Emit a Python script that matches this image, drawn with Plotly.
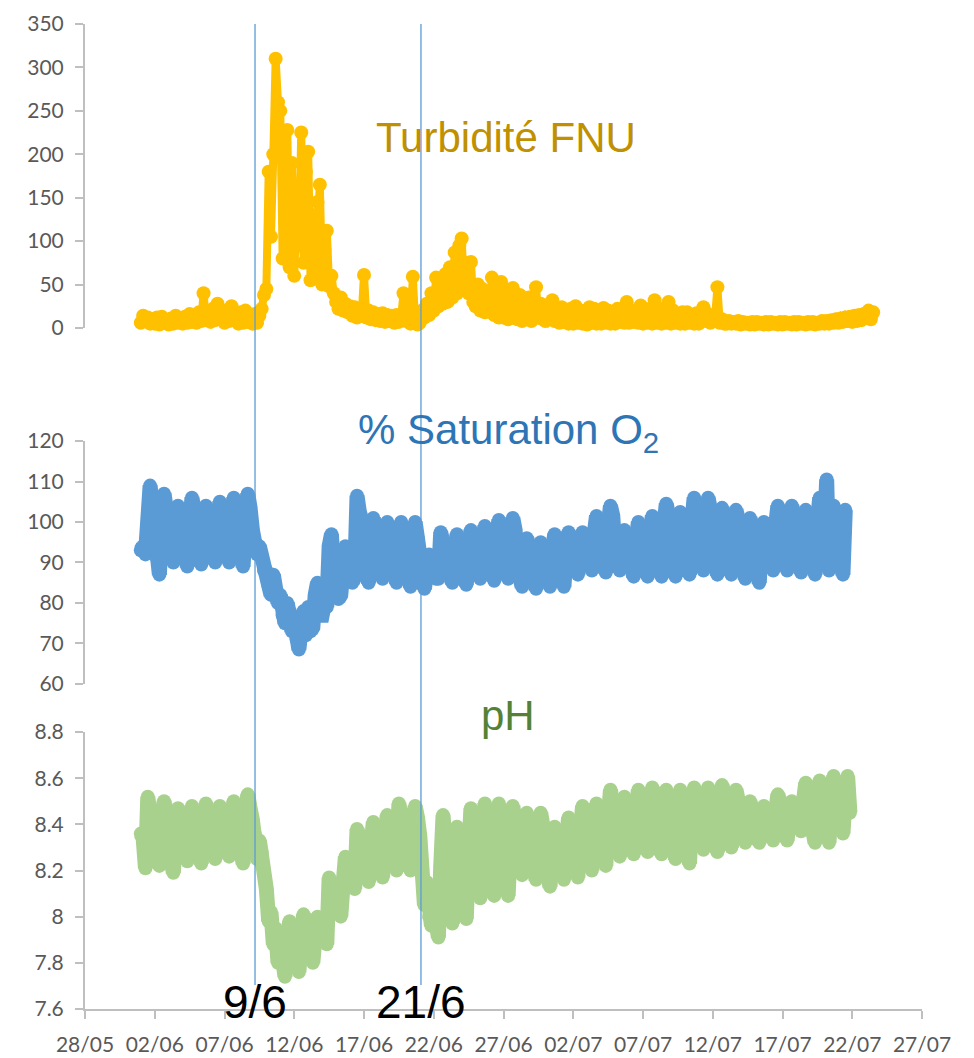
import pandas as pd
import plotly.graph_objects as go

# ---------------- data: one sample every 4 h (00,04,08,12,16,20 h) from 01/06 ----------------
START = "2018-06-01 00:00"
STEP = "4h"

TURBIDITY = [
    6, 14, 8, 12, 5, 10,          # 01/06
    5, 12, 4, 13, 6, 9,           # 02/06
    4, 11, 5, 14, 6, 10,          # 03/06
    5, 13, 6, 16, 7, 12,          # 04/06
    6, 18, 8, 40, 9, 15,          # 05/06
    7, 22, 9, 28, 10, 18,         # 06/06
    6, 20, 8, 25, 9, 17,          # 07/06
    5, 18, 6, 20, 7, 15,          # 08/06
    5, 16, 6, 14, 22, 38,         # 09/06
    45, 180, 105, 200, 310, 260,  # 10/06
    250, 80, 150, 228, 70, 190,   # 11/06
    60, 140, 95, 225, 75, 180,    # 12/06
    203, 55, 130, 60, 145, 165,   # 13/06
    50, 90, 112, 48, 60, 40,      # 14/06
    30, 22, 35, 20, 28, 18,       # 15/06
    25, 14, 24, 12, 20, 15,       # 16/06
    61, 12, 20, 10, 18, 9,        # 17/06
    16, 8, 17, 7, 15, 8,          # 18/06
    14, 6, 15, 7, 13, 40,         # 19/06
    8, 14, 5, 59, 6, 4,           # 20/06
    6, 20, 12, 28, 15, 40,        # 21/06
    20, 58, 25, 45, 28, 62,       # 22/06
    30, 70, 35, 87, 40, 95,       # 23/06
    103, 45, 75, 40, 76, 30,      # 24/06
    25, 50, 20, 45, 18, 40,       # 25/06
    20, 58, 15, 50, 12, 53,       # 26/06
    12, 40, 10, 35, 46, 12,       # 27/06
    10, 38, 8, 30, 10, 35,        # 28/06
    8, 30, 47, 12, 28, 10,        # 29/06
    8, 25, 10, 32, 8, 22,         # 30/06
    6, 24, 7, 20, 5, 22,          # 01/07
    5, 25, 6, 20, 5, 18,          # 02/07
    4, 24, 6, 22, 5, 20,          # 03/07
    5, 23, 6, 20, 5, 18,          # 04/07
    5, 22, 7, 20, 6, 30,          # 05/07
    6, 20, 7, 18, 6, 26,          # 06/07
    5, 22, 6, 18, 5, 32,          # 07/07
    6, 22, 5, 18, 6, 30,          # 08/07
    5, 20, 6, 16, 5, 18,          # 09/07
    5, 18, 6, 15, 5, 17,          # 10/07
    5, 16, 24, 8, 16, 6,          # 11/07
    10, 12, 47, 6, 10, 5,         # 12/07
    5, 8, 5, 7, 5, 8,             # 13/07
    4, 7, 5, 6, 4, 7,             # 14/07
    4, 7, 5, 6, 4, 7,             # 15/07
    4, 7, 5, 6, 4, 7,             # 16/07
    4, 7, 5, 6, 4, 7,             # 17/07
    4, 7, 5, 6, 4, 7,             # 18/07
    5, 7, 4, 6, 5, 8,             # 19/07
    5, 8, 5, 9, 6, 10,            # 20/07
    6, 11, 7, 12, 8, 13,          # 21/07
    7, 14, 8, 15, 9, 16,          # 22/07
    12, 20, 10, 18,               # 23/07
]

O2_SAT = [
    93, 94, 92, 100, 109, 103,          # 01/06
    95, 91, 87, 99, 107, 103,           # 02/06
    95.5, 93, 90, 98.5, 104, 101,       # 03/06
    96, 92.5, 89, 99, 106, 102.5,       # 04/06
    95.5, 92.5, 89.5, 98, 104, 101,     # 05/06
    96, 93, 90, 99, 105, 102,           # 06/06
    96.5, 93, 90, 99.5, 106, 103,       # 07/06
    96, 92.5, 89, 100, 107, 103.5,      # 08/06
    98, 95, 92, 94, 91, 88,             # 09/06
    88, 84, 82, 87, 83, 80,             # 10/06
    82, 77, 75, 80, 78, 73,             # 11/06
    76, 71, 68.5, 74, 78, 72,           # 12/06
    79, 73, 74, 82, 85, 77,             # 13/06
    77, 80, 79, 94, 97, 86,             # 14/06
    83, 81, 82, 89, 94, 90,             # 15/06
    86, 85, 87, 106.5, 102.5, 100.5,    # 16/06
    90, 86, 85, 94, 101, 97,            # 17/06
    91, 88, 86, 95, 100, 98,            # 18/06
    91, 88, 85, 94, 100, 97,            # 19/06
    90, 87, 84, 94, 100, 96,            # 20/06
    88, 85, 83.5, 88, 92, 90,           # 21/06
    88, 86, 86, 97.5, 93, 91,           # 22/06
    89, 87, 85, 92, 97, 94,             # 23/06
    89, 86.5, 84.5, 93, 98, 95,         # 24/06
    91, 88, 86, 95, 99, 96,             # 25/06
    91, 88, 85.5, 96, 100.5, 97,        # 26/06
    92, 89, 86, 96, 101, 98,            # 27/06
    89, 86, 84, 92, 96, 94,             # 28/06
    88, 86, 83.5, 91, 95, 93,           # 29/06
    89, 86.5, 84, 92, 97, 94,           # 30/06
    89.5, 86.5, 84, 93, 97.5, 95,       # 01/07
    91, 89, 87, 94, 97.5, 95.5,         # 02/07
    93, 90.5, 88, 97, 101.5, 99,        # 03/07
    94, 91, 87.5, 99, 104, 101.5,       # 04/07
    92, 90, 88, 95, 98, 96.5,           # 05/07
    92, 89, 86.5, 95, 100, 97.5,        # 06/07
    92.5, 89.5, 86.5, 97, 101.5, 99,    # 07/07
    94, 90, 86.5, 99, 104.5, 101.5,     # 08/07
    93, 89.5, 86.5, 98, 102.5, 100,     # 09/07
    94.5, 90.5, 87, 100, 106, 103,      # 10/07
    95, 91.5, 88, 100, 106, 103,        # 11/07
    93.5, 90, 87, 98, 103.5, 101,       # 12/07
    93, 90, 87, 98, 103, 100.5,         # 13/07
    92, 89, 86, 96, 101, 98.5,          # 14/07
    91, 88, 85, 95, 100, 97.5,          # 15/07
    94, 91, 88, 99, 104, 101.5,         # 16/07
    94, 91, 88, 99, 104, 101.5,         # 17/07
    93.5, 90.5, 87.5, 98, 103, 100.5,   # 18/07
    94, 90.5, 87, 100, 106, 103,        # 19/07
    97, 110.5, 88, 96, 104, 100,        # 20/07
    94, 90, 87, 103,                    # 21/07
]

PH = [
    8.36, 8.34, 8.21, 8.52, 8.44, 8.40,   # 01/06
    8.33, 8.28, 8.22, 8.39, 8.50, 8.44,   # 02/06
    8.30, 8.25, 8.19, 8.36, 8.47, 8.41,   # 03/06
    8.34, 8.29, 8.24, 8.38, 8.48, 8.43,   # 04/06
    8.33, 8.28, 8.23, 8.39, 8.49, 8.44,   # 05/06
    8.34, 8.30, 8.25, 8.39, 8.48, 8.43,   # 06/06
    8.36, 8.31, 8.26, 8.40, 8.50, 8.45,   # 07/06
    8.35, 8.29, 8.23, 8.41, 8.53, 8.47,   # 08/06
    8.42, 8.36, 8.25, 8.33, 8.28, 8.20,   # 09/06
    8.12, 7.98, 8.02, 7.88, 7.95, 7.80,   # 10/06
    7.90, 7.82, 7.74, 7.88, 7.98, 7.93,   # 11/06
    7.86, 7.80, 7.76, 7.90, 8.01, 7.96,   # 12/06
    7.88, 7.83, 7.80, 7.92, 8.00, 7.96,   # 13/06
    7.95, 7.90, 7.88, 8.17, 8.10, 8.03,   # 14/06
    8.08, 8.04, 8.00, 8.14, 8.26, 8.20,   # 15/06
    8.18, 8.15, 8.12, 8.38, 8.32, 8.26,   # 16/06
    8.24, 8.19, 8.15, 8.30, 8.41, 8.36,   # 17/06
    8.28, 8.22, 8.17, 8.35, 8.44, 8.40,   # 18/06
    8.31, 8.25, 8.20, 8.49, 8.45, 8.38,   # 19/06
    8.31, 8.25, 8.20, 8.38, 8.48, 8.43,   # 20/06
    8.35, 8.20, 8.05, 8.15, 8.00, 7.96,   # 21/06
    8.05, 7.95, 7.91, 8.22, 8.44, 8.30,   # 22/06
    8.12, 8.03, 7.97, 8.22, 8.39, 8.30,   # 23/06
    8.18, 8.08, 7.99, 8.28, 8.47, 8.37,   # 24/06
    8.24, 8.16, 8.08, 8.33, 8.49, 8.41,   # 25/06
    8.25, 8.17, 8.09, 8.34, 8.49, 8.41,   # 26/06
    8.25, 8.17, 8.09, 8.33, 8.48, 8.41,   # 27/06
    8.29, 8.23, 8.18, 8.34, 8.45, 8.39,   # 28/06
    8.28, 8.22, 8.16, 8.33, 8.45, 8.39,   # 29/06
    8.23, 8.18, 8.13, 8.29, 8.39, 8.34,   # 30/06
    8.27, 8.21, 8.16, 8.32, 8.43, 8.38,   # 01/07
    8.29, 8.23, 8.17, 8.36, 8.48, 8.42,   # 02/07
    8.32, 8.26, 8.20, 8.38, 8.49, 8.43,   # 03/07
    8.35, 8.28, 8.22, 8.42, 8.55, 8.48,   # 04/07
    8.36, 8.31, 8.26, 8.42, 8.52, 8.47,   # 05/07
    8.38, 8.33, 8.27, 8.44, 8.55, 8.49,   # 06/07
    8.39, 8.33, 8.28, 8.45, 8.56, 8.50,   # 07/07
    8.38, 8.33, 8.27, 8.44, 8.55, 8.49,   # 08/07
    8.37, 8.31, 8.25, 8.43, 8.55, 8.49,   # 09/07
    8.36, 8.30, 8.23, 8.43, 8.56, 8.50,   # 10/07
    8.40, 8.35, 8.29, 8.45, 8.56, 8.51,   # 11/07
    8.40, 8.34, 8.28, 8.45, 8.57, 8.51,   # 12/07
    8.40, 8.35, 8.30, 8.45, 8.55, 8.50,   # 13/07
    8.39, 8.35, 8.32, 8.43, 8.50, 8.46,   # 14/07
    8.38, 8.35, 8.32, 8.42, 8.48, 8.45,   # 15/07
    8.41, 8.37, 8.33, 8.45, 8.53, 8.49,   # 16/07
    8.40, 8.36, 8.33, 8.43, 8.50, 8.47,   # 17/07
    8.45, 8.41, 8.37, 8.50, 8.58, 8.54,   # 18/07
    8.43, 8.37, 8.32, 8.48, 8.59, 8.54,   # 19/07
    8.44, 8.38, 8.32, 8.50, 8.61, 8.55,   # 20/07
    8.46, 8.41, 8.36, 8.52, 8.61, 8.45,   # 21/07
]

TICK_DATES = ["2018-05-28", "2018-06-02", "2018-06-07", "2018-06-12", "2018-06-17",
              "2018-06-22", "2018-06-27", "2018-07-02", "2018-07-07", "2018-07-12",
              "2018-07-17", "2018-07-22", "2018-07-27"]
TICK_LABELS = ["28/05", "02/06", "07/06", "12/06", "17/06", "22/06", "27/06",
               "02/07", "07/07", "12/07", "17/07", "22/07", "27/07"]

PH_TICKS = [7.6, 7.8, 8.0, 8.2, 8.4, 8.6, 8.8]
PH_TICK_LABELS = ["7.6", "7.8", "8", "8.2", "8.4", "8.6", "8.8"]

EVENT_DATES = ["2018-06-09 04:30", "2018-06-21 02:00"]
EVENT_LABELS = ["9/6", "21/6"]

# ---------------- figure ----------------
def times(n):
    return pd.date_range(START, periods=n, freq=STEP)

fig = go.Figure()
for vals, yax, col, lw in [(TURBIDITY, "y", "#FFC000", 8),
                           (O2_SAT, "y2", "#5B9BD5", 15),
                           (PH, "y3", "#A9D18E", 15)]:
    fig.add_trace(go.Scatter(x=times(len(vals)), y=vals, mode="lines+markers",
                             xaxis="x", yaxis=yax, cliponaxis=False,
                             line=dict(color=col, width=lw),
                             marker=dict(color=col, size=14)))

AX_COL = "#BFBFBF"
TICK_FONT = dict(family="Lato", size=21, color="#595959")

yax_common = dict(anchor="x", showgrid=False, zeroline=False, showline=True,
                  linecolor=AX_COL, linewidth=2, ticks="outside", ticklen=8,
                  tickcolor=AX_COL, tickwidth=2, tickfont=TICK_FONT,
                  ticklabelstandoff=7, fixedrange=True, automargin=False)

fig.update_layout(
    width=974, height=1058,
    margin=dict(l=85, r=52, t=24, b=49, autoexpand=False),
    paper_bgcolor="white", plot_bgcolor="white",
    showlegend=False,
    xaxis=dict(type="date", anchor="y3", range=["2018-05-28", "2018-07-27"],
               tickvals=TICK_DATES, ticktext=TICK_LABELS,
               showgrid=False, zeroline=False, showline=True,
               linecolor=AX_COL, linewidth=2, ticks="outside", ticklen=8,
               tickcolor=AX_COL, tickwidth=2, tickfont=TICK_FONT,
               ticklabelstandoff=8, automargin=False, fixedrange=True),
    yaxis=dict(domain=[0.6914, 1.0], range=[0, 350], dtick=50, **yax_common),
    yaxis2=dict(domain=[0.330, 0.5766], range=[60, 120], dtick=10, **yax_common),
    yaxis3=dict(domain=[0.0, 0.2812], range=[7.6, 8.8],
                tickvals=PH_TICKS, ticktext=PH_TICK_LABELS, **yax_common),
)

for d in EVENT_DATES:
    fig.add_shape(type="line", xref="x", yref="paper", x0=d, x1=d, y0=0.0244, y1=1.0,
                  line=dict(color="#5B9BD5", width=1.3))

TITLE_FONT = "Liberation Sans, Arial, sans-serif"
fig.add_annotation(text="Turbidité FNU", xref="paper", yref="paper", x=0.503, y=0.885,
                   xanchor="center", yanchor="middle", showarrow=False,
                   font=dict(family=TITLE_FONT, size=42, color="#BF9000"))
fig.add_annotation(text="% Saturation O<sub>2</sub>", xref="paper", yref="paper",
                   x=0.506, y=0.585, xanchor="center", yanchor="middle", showarrow=False,
                   font=dict(family=TITLE_FONT, size=42, color="#2E75B6"))
fig.add_annotation(text="pH", xref="paper", yref="paper", x=0.505, y=0.298,
                   xanchor="center", yanchor="middle", showarrow=False,
                   font=dict(family=TITLE_FONT, size=42, color="#548235"))
for d, lab in zip(EVENT_DATES, EVENT_LABELS):
    fig.add_annotation(text=lab, xref="x", yref="paper", x=d, y=0.0076,
                       showarrow=False, xanchor="center", yanchor="middle",
                       font=dict(family=TITLE_FONT, size=46, color="black"))

fig.write_html("out.html", config={"displayModeBar": False},
               post_script="document.body.style.margin='0px';")
